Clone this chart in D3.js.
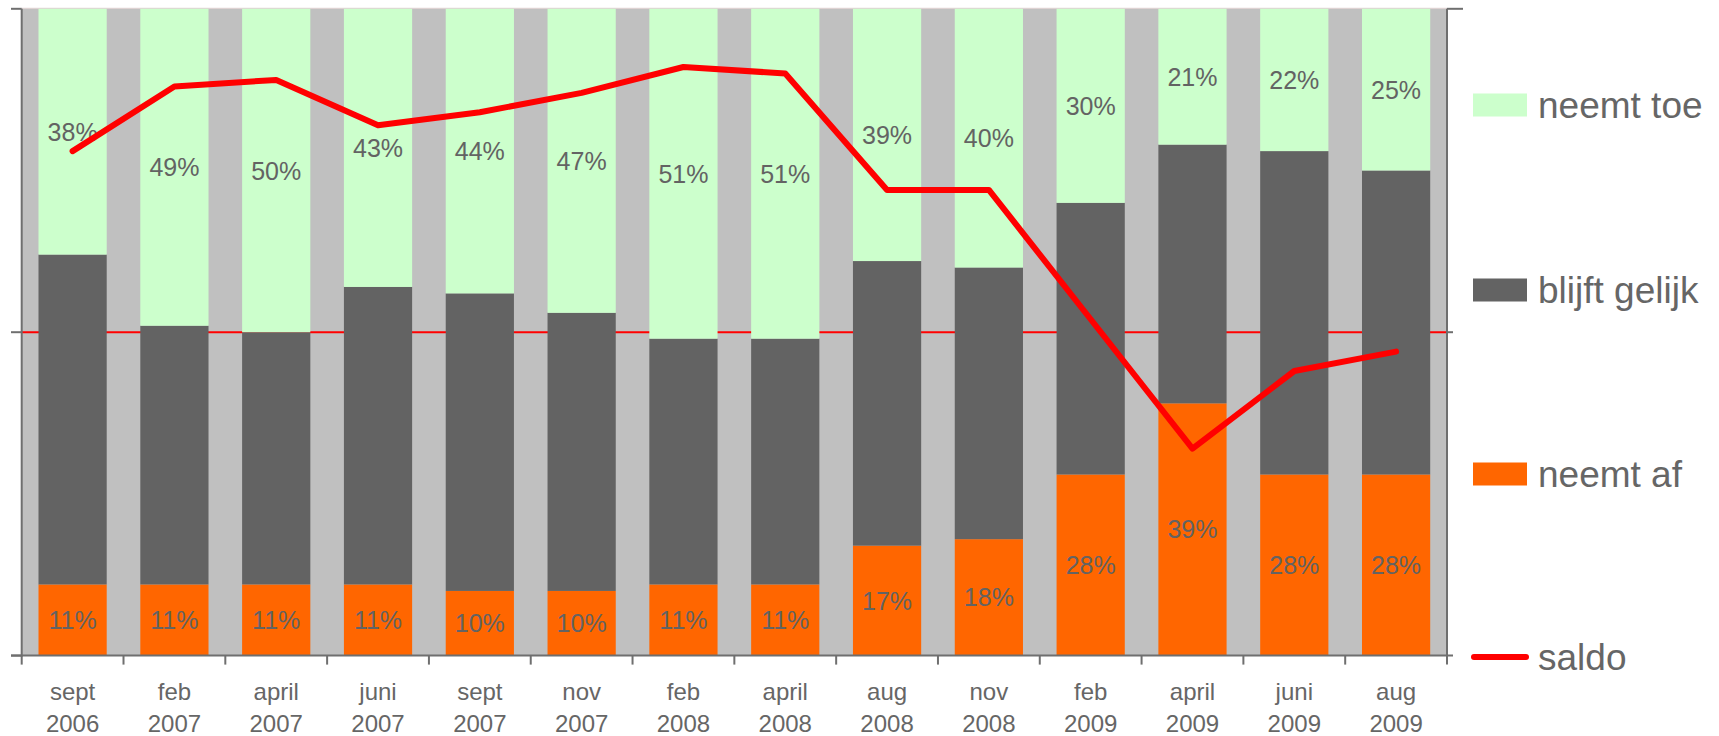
<!DOCTYPE html>
<html><head><meta charset="utf-8">
<script src="https://cdn.jsdelivr.net/npm/d3@7/dist/d3.min.js"></script>
<style>
html,body{margin:0;padding:0;background:#fff;}
svg text{font-family:"Liberation Sans",Arial,sans-serif;}
</style></head>
<body>
<svg id="chart" width="1719" height="736"></svg>
<script>
const months = ["sept","feb","april","juni","sept","nov","feb","april","aug","nov","feb","april","juni","aug"];
const years  = ["2006","2007","2007","2007","2007","2007","2008","2008","2008","2008","2009","2009","2009","2009"];
const neemtAf      = [11,11,11,11,10,10,11,11,17,18,28,39,28,28];
const blijftGelijk = [51,40,39,46,46,43,38,38,44,42,42,40,50,47];
const neemtToe     = [38,49,50,43,44,47,51,51,39,40,30,21,22,25];
const saldo        = [28,38,39,32,34,37,41,40,22,22,2,-18,-6,-3];
const legendLabels = ["neemt toe","blijft gelijk","neemt af","saldo"];

const cats = months.map((m,i)=>m+" "+years[i]);
const colors = {toe:"#ccffcc", gelijk:"#636363", af:"#ff6600", bg:"#c0c0c0", line:"#ff0000", axis:"#6f6f6f", text:"#666666"};

const L=21.7, R=1447, T=8.8, B=655.6;
const svg = d3.select("#chart");

const x = d3.scaleBand().domain(cats).range([L,R]).paddingInner(0.33).paddingOuter(0.165);
const y = d3.scaleLinear().domain([0,100]).range([B,T]);
const y2 = d3.scaleLinear().domain([-50,50]).range([B,T]);

// plot background
svg.append("rect").attr("x",L).attr("y",T).attr("width",R-L).attr("height",B-T).attr("fill",colors.bg);
// top border
svg.append("line").attr("x1",L).attr("x2",R).attr("y1",T-0.5).attr("y2",T-0.5).attr("stroke","#d9caca").attr("stroke-width",1);

// zero line of secondary axis
svg.append("line").attr("x1",L).attr("x2",R).attr("y1",y2(0)).attr("y2",y2(0)).attr("stroke",colors.line).attr("stroke-width",2);

const rows = cats.map((c,i)=>({cat:c, af:neemtAf[i], gelijk:blijftGelijk[i], toe:neemtToe[i]}));
const stack = d3.stack().keys(["af","gelijk","toe"])(rows);

svg.append("g").selectAll("g").data(stack).join("g")
  .attr("fill",d=>colors[d.key])
  .selectAll("rect").data(d=>d).join("rect")
  .attr("x",d=>x(d.data.cat)).attr("width",x.bandwidth())
  .attr("y",d=>y(d[1])).attr("height",d=>y(d[0])-y(d[1]));

// data labels for af and toe
const labelG = svg.append("g").attr("fill","#636363").attr("font-size",25).attr("text-anchor","middle");
stack.filter(s=>s.key!=="gelijk").forEach(s=>{
  labelG.selectAll(null).data(s).join("text")
    .attr("x",d=>x(d.data.cat)+x.bandwidth()/2)
    .attr("y",d=>(y(d[0])+y(d[1]))/2)
    .attr("dy","0.36em")
    .text(d=>(d[1]-d[0])+"%");
});

// saldo line
const line = d3.line().x((d,i)=>x(cats[i])+x.bandwidth()/2).y(d=>y2(d));
svg.append("path").datum(saldo).attr("d",line).attr("fill","none")
  .attr("stroke",colors.line).attr("stroke-width",6).attr("stroke-linejoin","round").attr("stroke-linecap","round");

// axes
const ax = svg.append("g").attr("stroke",colors.axis).attr("stroke-width",2);
ax.append("line").attr("x1",L).attr("x2",L).attr("y1",T).attr("y2",B+1);
ax.append("line").attr("x1",R).attr("x2",R).attr("y1",T).attr("y2",B+1);
ax.append("line").attr("x1",11).attr("x2",R+6).attr("y1",B).attr("y2",B);
[0,50,100].forEach(v=>{
  ax.append("line").attr("x1",11).attr("x2",L).attr("y1",y(v)).attr("y2",y(v));
});
ax.append("line").attr("x1",R).attr("x2",R+16).attr("y1",T).attr("y2",T);
ax.append("line").attr("x1",R).attr("x2",R+6).attr("y1",y2(0)).attr("y2",y2(0));
const step = x.step();
const bounds = cats.map(c=>x(c)-x.paddingInner()*step/2).concat([R]);
bounds[0]=L;
ax.selectAll(null).data(bounds).join("line")
  .attr("x1",d=>d).attr("x2",d=>d).attr("y1",B).attr("y2",B+9);

// category labels
const xl = svg.append("g").attr("fill",colors.text).attr("font-size",24).attr("text-anchor","middle");
cats.forEach((c,i)=>{
  const t = xl.append("text").attr("x",x(c)+x.bandwidth()/2).attr("y",700);
  t.append("tspan").attr("x",x(c)+x.bandwidth()/2).attr("y",700).text(months[i]);
  t.append("tspan").attr("x",x(c)+x.bandwidth()/2).attr("y",731.5).text(years[i]);
});

// legend
const legY = [105,290,474,657];
const leg = svg.append("g");
const legColors = [colors.toe,colors.gelijk,colors.af];
legendLabels.forEach((lab,i)=>{
  if(i<3){
    leg.append("rect").attr("x",1473).attr("y",legY[i]-11.5).attr("width",54).attr("height",23).attr("fill",legColors[i]);
  } else {
    leg.append("line").attr("x1",1474).attr("x2",1526).attr("y1",legY[i]).attr("y2",legY[i])
      .attr("stroke",colors.line).attr("stroke-width",6).attr("stroke-linecap","round");
  }
  leg.append("text").attr("x",1538).attr("y",legY[i]).attr("dy","0.36em")
    .attr("font-size",37).attr("fill",colors.text).text(lab);
});
</script>
</body></html>
